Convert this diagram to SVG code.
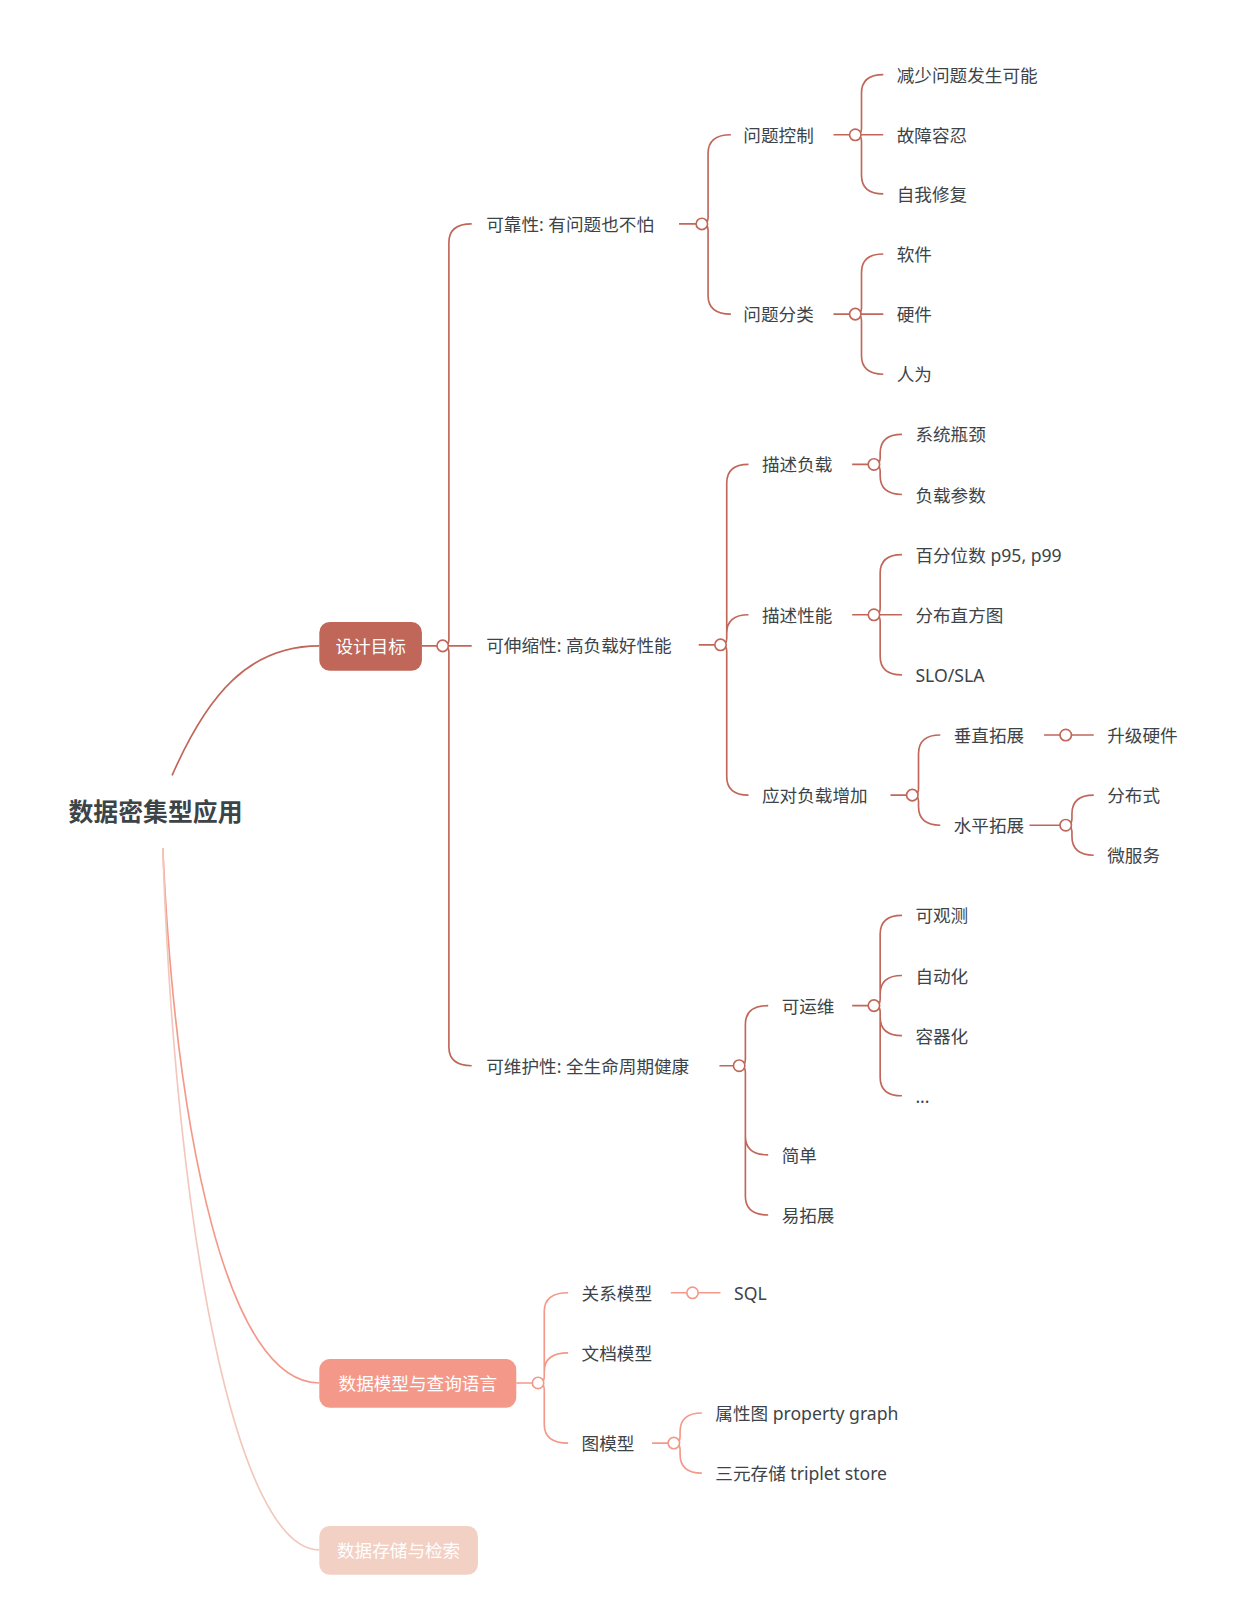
<svg xmlns="http://www.w3.org/2000/svg" width="1244" height="1622" viewBox="0 0 1244 1622">
<style>
text{font-family:"Noto Sans","Noto Sans CJK SC",sans-serif;font-size:17px;fill:#3d4448;dominant-baseline:central}
.c1{fill:none;stroke:#c0675a;stroke-width:1.6}
.c2{fill:none;stroke:#f4998a;stroke-width:1.6}
.c3{fill:none;stroke:#f2c8bb;stroke-width:1.6}
.d1{fill:#fff;stroke:#c0675a;stroke-width:1.6}
.d2{fill:#fff;stroke:#f4998a;stroke-width:1.6}
.w{fill:#fff}
</style>
<rect width="1244" height="1622" fill="#fff"/>
<g transform="scale(1.0367)">
<g id="connectors">
<path class="c1" d="M166,748C200,670 240,623 308,623"/>
<path class="c2" d="M157,818C170,1100 220,1334 308,1334"/>
<path class="c3" d="M157,818C170,1200 230,1495 308,1495"/>
<path class="c1" d="M407,623H422M432,623H455"/>
<path class="c1" d="M427,623Q433,623 433,617L433,234Q433,216 455,216M427,623Q433,623 433,629L433,1010Q433,1028 455,1028"/>
<path class="c1" d="M655,216H672M804,130H820M804,303H820M674,622H690M822,448H838M822,593H838M859,767H875M1007,709H1023M1033,709H1055M694,1028H708M822,970H838"/>
<path class="c1" d="M677,216Q683,216 683,210L683,148Q683,130 705,130M677,216Q683,216 683,222L683,285Q683,303 705,303"/>
<path class="c1" d="M825,130Q831,130 831,124L831,90Q831,72 852,72M830,130H852M825,130Q831,130 831,136L831,169Q831,187 852,187"/>
<path class="c1" d="M825,303Q831,303 831,297L831,263Q831,245 852,245M830,303H852M825,303Q831,303 831,309L831,343Q831,361 852,361"/>
<path class="c1" d="M695,622Q701,622 701,616L701,466Q701,448 722,448M695,622Q701,622 701,616L701,611Q701,593 722,593M695,622Q701,622 701,628L701,749Q701,767 722,767"/>
<path class="c1" d="M843,448Q849,448 849,442L849,437Q849,419 870,419M843,448Q849,448 849,454L849,459Q849,477 870,477"/>
<path class="c1" d="M843,593Q849,593 849,587L849,553Q849,535 870,535M848,593H870M843,593Q849,593 849,599L849,633Q849,651 870,651"/>
<path class="c1" d="M880,767Q886,767 886,761L886,727Q886,709 907,709M880,767Q886,767 886,773L886,778Q886,796 907,796"/>
<path class="c1" d="M993,796H1023M1028,796Q1034,796 1034,790L1034,785Q1034,767 1055,767M1028,796Q1034,796 1034,802L1034,807Q1034,825 1055,825"/>
<path class="c1" d="M713,1028Q719,1028 719,1022L719,988Q719,970 741,970M713,1028Q719,1028 719,1034L719,1096Q719,1114 741,1114M713,1028Q719,1028 719,1034L719,1154Q719,1172 741,1172"/>
<path class="c1" d="M843,970Q849,970 849,964L849,901Q849,883 870,883M843,970Q849,970 849,964L849,959Q849,941 870,941M843,970Q849,970 849,976L849,981Q849,999 870,999M843,970Q849,970 849,976L849,1039Q849,1057 870,1057"/>
<path class="c2" d="M498,1334H514M647,1247H663M673,1247H695M629,1392H645"/>
<path class="c2" d="M519,1334Q525,1334 525,1328L525,1265Q525,1247 548,1247M519,1334Q525,1334 525,1328L525,1323Q525,1305 548,1305M519,1334Q525,1334 525,1340L525,1374Q525,1392 548,1392"/>
<path class="c2" d="M650,1392Q656,1392 656,1386L656,1381Q656,1363 677,1363M650,1392Q656,1392 656,1398L656,1403Q656,1421 677,1421"/>
<g>
<circle class="d1" cx="427" cy="623" r="5.5"/><circle class="d1" cx="677" cy="216" r="5.5"/><circle class="d1" cx="825" cy="130" r="5.5"/><circle class="d1" cx="825" cy="303" r="5.5"/><circle class="d1" cx="695" cy="622" r="5.5"/><circle class="d1" cx="843" cy="448" r="5.5"/><circle class="d1" cx="843" cy="593" r="5.5"/><circle class="d1" cx="880" cy="767" r="5.5"/><circle class="d1" cx="1028" cy="709" r="5.5"/><circle class="d1" cx="1028" cy="796" r="5.5"/><circle class="d1" cx="713" cy="1028" r="5.5"/><circle class="d1" cx="843" cy="970" r="5.5"/>
<circle class="d2" cx="519" cy="1334" r="5.5"/><circle class="d2" cx="668" cy="1247" r="5.5"/><circle class="d2" cx="650" cy="1392" r="5.5"/>
</g>
</g>
<g id="root"><text x="66" y="782" style="font-size:24px;font-weight:bold">数据密集型应用</text></g>
<g id="n-design"><rect x="308" y="600" width="99" height="47" rx="10" fill="#c0675a"/><text class="w" x="357.5" y="623" text-anchor="middle">设计目标</text></g>
<g id="n-model"><rect x="308" y="1311" width="190" height="47" rx="10" fill="#f4998a"/><text class="w" x="403" y="1334" text-anchor="middle">数据模型与查询语言</text></g>
<g id="n-storage"><rect x="308" y="1472" width="153" height="47" rx="10" fill="#f2d0c4"/><text class="w" x="384.5" y="1495" text-anchor="middle">数据存储与检索</text></g>
<g id="n-rel"><text x="469" y="216">可靠性: 有问题也不怕</text></g>
<g id="n-rel1"><text x="717" y="130">问题控制</text></g>
<g id="n-rel11"><text x="865" y="72">减少问题发生可能</text></g>
<g id="n-rel12"><text x="865" y="130">故障容忍</text></g>
<g id="n-rel13"><text x="865" y="187">自我修复</text></g>
<g id="n-rel2"><text x="717" y="303">问题分类</text></g>
<g id="n-rel21"><text x="865" y="245">软件</text></g>
<g id="n-rel22"><text x="865" y="303">硬件</text></g>
<g id="n-rel23"><text x="865" y="361">人为</text></g>
<g id="n-sca"><text x="469" y="622">可伸缩性: 高负载好性能</text></g>
<g id="n-sca1"><text x="735" y="448">描述负载</text></g>
<g id="n-sca11"><text x="883" y="419">系统瓶颈</text></g>
<g id="n-sca12"><text x="883" y="477">负载参数</text></g>
<g id="n-sca2"><text x="735" y="593">描述性能</text></g>
<g id="n-sca21"><text x="883" y="535">百分位数 p95, p99</text></g>
<g id="n-sca22"><text x="883" y="593">分布直方图</text></g>
<g id="n-sca23"><text x="883" y="651">SLO/SLA</text></g>
<g id="n-sca3"><text x="735" y="767">应对负载增加</text></g>
<g id="n-sca31"><text x="920" y="709">垂直拓展</text></g>
<g id="n-sca311"><text x="1068" y="709">升级硬件</text></g>
<g id="n-sca32"><text x="920" y="796">水平拓展</text></g>
<g id="n-sca321"><text x="1068" y="767">分布式</text></g>
<g id="n-sca322"><text x="1068" y="825">微服务</text></g>
<g id="n-mai"><text x="469" y="1028">可维护性: 全生命周期健康</text></g>
<g id="n-mai1"><text x="754" y="970">可运维</text></g>
<g id="n-mai11"><text x="883" y="883">可观测</text></g>
<g id="n-mai12"><text x="883" y="941">自动化</text></g>
<g id="n-mai13"><text x="883" y="999">容器化</text></g>
<g id="n-mai14"><text x="883" y="1057">...</text></g>
<g id="n-mai2"><text x="754" y="1114">简单</text></g>
<g id="n-mai3"><text x="754" y="1172">易拓展</text></g>
<g id="n-m1"><text x="561" y="1247">关系模型</text></g>
<g id="n-m11"><text x="708" y="1247">SQL</text></g>
<g id="n-m2"><text x="561" y="1305">文档模型</text></g>
<g id="n-m3"><text x="561" y="1392">图模型</text></g>
<g id="n-m31"><text x="690" y="1363">属性图 property graph</text></g>
<g id="n-m32"><text x="690" y="1421">三元存储 triplet store</text></g>
</g>
</svg>
